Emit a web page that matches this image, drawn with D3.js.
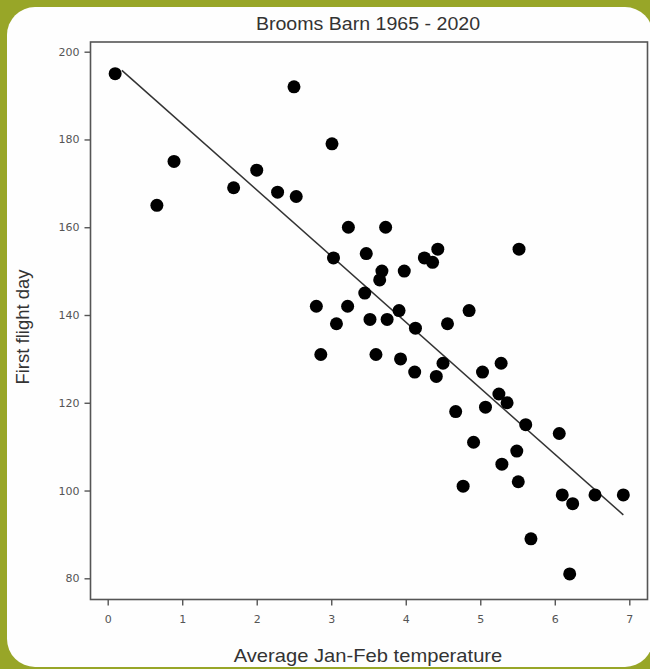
<!DOCTYPE html>
<html>
<head>
<meta charset="utf-8">
<script src="https://cdn.jsdelivr.net/npm/d3@7"></script>
<style>
  html, body { margin: 0; padding: 0; background: #98a628; }
  svg { display: block; }
  text { font-family: "Liberation Sans", Arial, sans-serif; }
</style>
</head>
<body>
<svg width="650" height="669"></svg>
<script>
// average Jan-Feb temperature
const temps = [
  0.1, 0.66, 0.89, 1.69, 2.0, 2.28, 2.53, 2.5, 3.01, 3.23,
  3.73, 3.03, 3.47, 4.25, 4.43, 4.36, 3.68, 3.65, 3.98, 3.45,
  2.8, 3.22, 3.91, 4.85, 3.07, 3.52, 3.75, 4.13, 4.56, 2.86,
  3.6, 3.93, 4.12, 4.41, 4.5, 5.03, 5.28, 4.67, 5.07, 5.25,
  5.36, 5.52, 5.61, 6.06, 4.91, 5.49, 5.29, 4.77, 5.51, 6.1,
  6.24, 6.54, 6.92, 5.68, 6.2
];
// first flight day
const days = [
  195, 165, 175, 169, 173, 168, 167, 192, 179, 160,
  160, 153, 154, 153, 155, 152, 150, 148, 150, 145,
  142, 142, 141, 141, 138, 139, 139, 137, 138, 131,
  131, 130, 127, 126, 129, 127, 129, 118, 119, 122,
  120, 155, 115, 113, 111, 109, 106, 101, 102, 99,
  97, 99, 99, 89, 81
];
const xTicks = [0, 1, 2, 3, 4, 5, 6, 7];
const yTicks = [80, 100, 120, 140, 160, 180, 200];
// fitted line
const fitIntercept = 198.6;
const fitSlope = -15.05;
const fitRange = [0.19, 6.92];

const svg = d3.select("svg");

// white rounded panel
svg.append("rect")
  .attr("x", 7).attr("y", 7)
  .attr("width", 646).attr("height", 660)
  .attr("rx", 28)
  .attr("fill", "#fefefe");

const x = d3.scaleLinear().domain([0, 7]).range([107.7, 629.3]);
const y = d3.scaleLinear().domain([80, 200]).range([578.3, 51.7]);

// frame
const frame = { left: 90.5, top: 42, right: 647.5, bottom: 599.5 };
svg.append("rect")
  .attr("x", frame.left).attr("y", frame.top)
  .attr("width", frame.right - frame.left)
  .attr("height", frame.bottom - frame.top)
  .attr("fill", "none")
  .attr("stroke", "#555")
  .attr("stroke-width", 1.6);

// axes
const xAxis = svg.append("g")
  .attr("transform", `translate(0,${frame.bottom})`)
  .call(d3.axisBottom(x).tickValues(xTicks).tickFormat(d3.format("d"))
    .tickSize(6).tickPadding(10));
const yAxis = svg.append("g")
  .attr("transform", `translate(${frame.left},0)`)
  .call(d3.axisLeft(y).tickValues(yTicks).tickFormat(d3.format("d"))
    .tickSize(6).tickPadding(5));
[xAxis, yAxis].forEach((g) => {
  g.select(".domain").remove();
  g.selectAll(".tick line").attr("stroke", "#555").attr("stroke-width", 1.4);
  g.selectAll(".tick text")
    .attr("fill", "#555")
    .style("font-family", '"DejaVu Sans", sans-serif')
    .style("font-size", "11px");
});

// regression line
const line = d3.line().x((d) => x(d)).y((d) => y(fitIntercept + fitSlope * d));
svg.append("path")
  .attr("d", line(fitRange))
  .attr("fill", "none")
  .attr("stroke", "#333")
  .attr("stroke-width", 1.5);

// points
svg.append("g")
  .selectAll("circle")
  .data(temps)
  .enter()
  .append("circle")
  .attr("cx", (d) => x(d))
  .attr("cy", (d, i) => y(days[i]))
  .attr("r", 6.5)
  .attr("fill", "#000");

// titles
svg.append("text")
  .attr("transform", "translate(368,30) scale(1.12,1)")
  .attr("text-anchor", "middle")
  .attr("fill", "#333")
  .style("font-size", "17.5px")
  .text("Brooms Barn 1965 - 2020");

svg.append("text")
  .attr("transform", "translate(368,662) scale(1.12,1)")
  .attr("text-anchor", "middle")
  .attr("fill", "#333")
  .style("font-size", "18px")
  .text("Average Jan-Feb temperature");

svg.append("text")
  .attr("transform", "translate(29,327) rotate(-90)")
  .attr("text-anchor", "middle")
  .attr("fill", "#333")
  .style("font-size", "18.5px")
  .text("First flight day");
</script>
</body>
</html>
